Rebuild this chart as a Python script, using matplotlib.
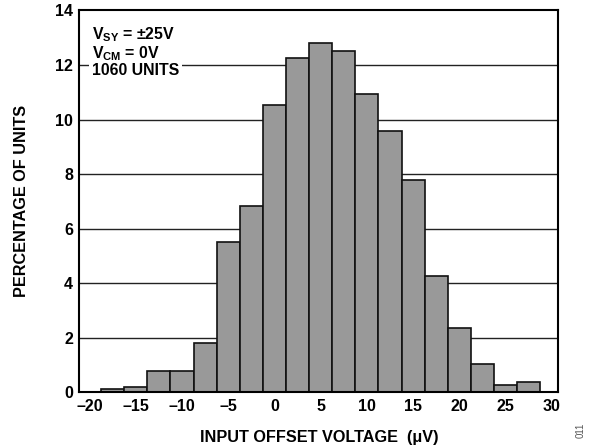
import matplotlib
matplotlib.use("Agg")
import matplotlib.pyplot as plt

# histogram data
bin_centers = [-17.5, -15, -12.5, -10, -7.5, -5, -2.5, 0, 2.5, 5, 7.5,
               10, 12.5, 15, 17.5, 20, 22.5, 25, 27.5]
pct_units = [0.11, 0.18, 0.77, 0.77, 1.8, 5.5, 6.82, 10.53, 12.24, 12.79, 12.52,
             10.92, 9.57, 7.77, 4.26, 2.37, 1.03, 0.27, 0.39]
bin_width = 2.5

x_ticks = [-20, -15, -10, -5, 0, 5, 10, 15, 20, 25, 30]
y_ticks = [0, 2, 4, 6, 8, 10, 12, 14]

plt.rcParams['font.family'] = ['Liberation Sans', 'DejaVu Sans']
plt.rcParams['font.weight'] = 'bold'
plt.rcParams['mathtext.fontset'] = 'custom'
plt.rcParams['mathtext.rm'] = 'Liberation Sans:bold'
plt.rcParams['mathtext.bf'] = 'Liberation Sans:bold'
plt.rcParams['mathtext.it'] = 'Liberation Sans:bold'

fig = plt.figure(figsize=(5.89, 4.48), dpi=100)
ax = fig.add_axes([0.1346, 0.1243, 0.948 - 0.1346, 0.9766 - 0.1243])

# grid lines behind bars
for yv in y_ticks[1:-1]:
    ax.axhline(yv, color='#222222', lw=1.0, zorder=1)

ax.bar(bin_centers, pct_units, width=bin_width, color='#999999',
       edgecolor='#111111', linewidth=1.2, zorder=2)

ax.set_xlim(-21.1, 30.7)
ax.set_ylim(0, 14)
ax.set_xticks(x_ticks)
ax.set_xticklabels([str(v).replace('-', '\u2013') for v in x_ticks])
ax.set_yticks(y_ticks)
ax.tick_params(length=0, labelsize=11.5, pad=4.5)
for lab in ax.get_xticklabels() + ax.get_yticklabels():
    lab.set_fontweight('bold')
for s in ax.spines.values():
    s.set_linewidth(1.5)
    s.set_zorder(5)

ax.set_xlabel('INPUT OFFSET VOLTAGE  (\u03bcV)', fontsize=11.7, fontweight='bold', labelpad=12)
ax.set_ylabel('PERCENTAGE OF UNITS', fontsize=11.7, fontweight='bold', labelpad=19)

ax.text(0.027, 0.962, '$\\mathbf{V_{SY}}$ = \u00b125V\n$\\mathbf{V_{CM}}$ = 0V\n1060 UNITS',
        transform=ax.transAxes, fontsize=11.4, fontweight='bold', va='top', ha='left',
        linespacing=1.02, zorder=4,
        bbox=dict(facecolor='white', edgecolor='none', pad=2.2))

fig.text(0.985, 0.04, '011', rotation=90, fontsize=7, color='#555555',
         fontweight='normal', ha='center', va='center')

fig.savefig('out.png', dpi=100)
